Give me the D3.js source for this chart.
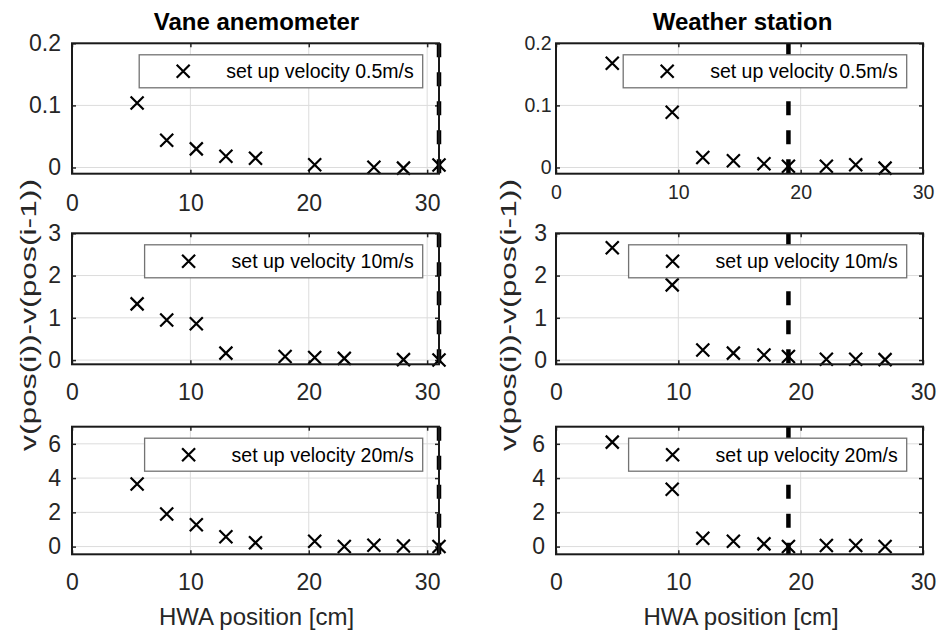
<!DOCTYPE html>
<html>
<head>
<meta charset="utf-8">
<script src="https://cdn.jsdelivr.net/npm/d3@7"></script>
<style>
  body { margin: 0; background: #fff; }
  text { font-family: "Liberation Sans", Arial, sans-serif; }
</style>
</head>
<body>
<svg id="chart" width="941" height="632"></svg>
<script>
// HWA positions (cm), null = no visible point
var vanePos = [5.5, 8, 10.5, 13, 15.5, 18, 20.5, 23, 25.5, 28, 31];
var vane05 = [0.104, 0.044, 0.030, 0.018, 0.015, null, 0.0045, null, 0.0005, -0.001, 0.004];
var vane10 = [1.33, 0.95, 0.86, 0.165, null, 0.085, 0.06, 0.04, null, 0.01, 0.0];
var vane20 = [3.65, 1.9, 1.28, 0.58, 0.23, null, 0.31, 0.0, 0.08, 0.04, 0.0];

var weatherPos = [4.6, 9.5, 12, 14.5, 17, 19, 22.1, 24.5, 26.9];
var weather05 = [0.168, 0.089, 0.016, 0.011, 0.006, 0.002, 0.002, 0.0045, -0.001];
var weather10 = [2.66, 1.78, 0.24, 0.165, 0.12, 0.085, 0.02, 0.02, 0.01];
var weather20 = [6.1, 3.35, 0.49, 0.31, 0.16, 0.0, 0.06, 0.06, 0.0];

var titles = ["Vane anemometer", "Weather station"];
var legendLabels = ["set up velocity 0.5m/s", "set up velocity 10m/s", "set up velocity 20m/s"];
var xTicks = [0, 10, 20, 30];
var yTicks = [[0, 0.1, 0.2], [0, 1, 2, 3], [0, 2, 4, 6]];
var yTickLabels = [["0", "0.1", "0.2"], ["0", "1", "2", "3"], ["0", "2", "4", "6"]];
var yLimits = [[-0.01, 0.2], [-0.1, 3], [-0.45, 7]];
var xLimits = [[0, 31], [0, 30]];
var dashPos = [31, 19];
var xLabel = "HWA position [cm]";
var yLabel = "v(pos(i))-v(pos(i-1))";

var svg = d3.select("#chart");

// layout
var cols = [[72, 439], [556, 923]];
var rows = [[43.3, 173.7], [233.3, 364.3], [426.7, 554.3]];
var legendRight = [422.7, 906.7];

var series = [
  [vane05, vane10, vane20],
  [weather05, weather10, weather20]
];
var positions = [vanePos, weatherPos];

function drawPanel(c, r) {
  var x0 = cols[c][0], x1 = cols[c][1];
  var y0 = rows[r][0], y1 = rows[r][1];
  var small = (c == 1 && r == 0);
  var fs = small ? 19.5 : 23;

  var x = d3.scaleLinear().domain(xLimits[c]).range([x0, x1]);
  var y = d3.scaleLinear().domain(yLimits[r]).range([y1, y0]);
  var g = svg.append("g");

  // grid
  g.selectAll(".gx").data(xTicks).enter().append("line")
    .attr("x1", d => x(d)).attr("x2", d => x(d))
    .attr("y1", y0).attr("y2", y1)
    .attr("stroke", "#dcdcdc").attr("stroke-width", 1);
  g.selectAll(".gy").data(yTicks[r]).enter().append("line")
    .attr("x1", x0).attr("x2", x1)
    .attr("y1", d => y(d)).attr("y2", d => y(d))
    .attr("stroke", "#dcdcdc").attr("stroke-width", 1);

  // axes
  var xPad = small ? 11.5 : (r == 0 ? 20.5 : 19);
  var xa = g.append("g").attr("transform", "translate(0," + y1 + ")")
    .call(d3.axisBottom(x).tickValues(xTicks).tickSizeInner(-4).tickSizeOuter(0).tickPadding(xPad));
  var xt = g.append("g").attr("transform", "translate(0," + y0 + ")")
    .call(d3.axisTop(x).tickValues(xTicks).tickSizeInner(-4).tickSizeOuter(0).tickFormat(""));
  var yPad = small ? 4.5 : (c == 1 && r == 1 ? 9 : 11);
  var ya = g.append("g").attr("transform", "translate(" + x0 + ",0)")
    .call(d3.axisLeft(y).tickValues(yTicks[r]).tickSizeInner(-4).tickSizeOuter(0).tickPadding(yPad)
      .tickFormat((d, i) => yTickLabels[r][i]));
  var yr = g.append("g").attr("transform", "translate(" + x1 + ",0)")
    .call(d3.axisRight(y).tickValues(yTicks[r]).tickSizeInner(-4).tickSizeOuter(0).tickFormat(""));
  [xa, xt, ya, yr].forEach(function (a) {
    a.select(".domain").remove();
    a.selectAll("line").attr("stroke", "#262626").attr("stroke-width", 1.5);
    a.selectAll("text").attr("fill", "#262626").attr("font-size", fs)
      .attr("font-family", "Liberation Sans, Arial, sans-serif");
  });

  // threshold line
  g.append("line")
    .attr("x1", x(dashPos[c])).attr("x2", x(dashPos[c]))
    .attr("y1", y0).attr("y2", y1)
    .attr("stroke", "#000").attr("stroke-width", 4.5)
    .attr("stroke-dasharray", "14,15");

  // markers
  var pts = positions[c].map((p, i) => ({ p: p, v: series[c][r][i] }))
    .filter(d => d.v !== null);
  g.selectAll(".m").data(pts).enter().append("path")
    .attr("transform", d => "translate(" + x(d.p) + "," + y(d.v) + ")")
    .attr("d", "M-6.5,-6.5L6.5,6.5M-6.5,6.5L6.5,-6.5")
    .attr("stroke", "#000").attr("stroke-width", 2.2).attr("fill", "none");

  // box
  g.append("rect")
    .attr("x", x0).attr("y", y0).attr("width", x1 - x0).attr("height", y1 - y0)
    .attr("fill", "none").attr("stroke", "#1a1a1a").attr("stroke-width", 2);

  // legend
  var lg = g.append("g");
  var ly = y0 + 11.5, lh = 33;
  var lt = lg.append("text").text(legendLabels[r])
    .attr("font-size", 19.5).attr("fill", "#000")
    .attr("y", ly + lh / 2).attr("dy", "0.35em");
  var tw = lt.node().getComputedTextLength();
  var lx = legendRight[c] - (87 + tw + 9);
  lg.insert("rect", "text")
    .attr("x", lx).attr("y", ly).attr("width", legendRight[c] - lx).attr("height", lh)
    .attr("fill", "#fff").attr("stroke", "#737373").attr("stroke-width", 1.3);
  lt.attr("x", lx + 87);
  lg.append("path")
    .attr("transform", "translate(" + (lx + 44) + "," + (ly + lh / 2) + ")")
    .attr("d", "M-6.5,-6.5L6.5,6.5M-6.5,6.5L6.5,-6.5")
    .attr("stroke", "#000").attr("stroke-width", 2.2).attr("fill", "none");

  if (r == 0) {
    svg.append("text").text(titles[c])
      .attr("x", (x0 + x1) / 2 + (c == 0 ? 1 : 3)).attr("y", 29.5)
      .attr("text-anchor", "middle").attr("font-weight", "bold")
      .attr("font-size", 24).attr("fill", "#000");
  }
  if (r == 2) {
    svg.append("text").text(xLabel)
      .attr("x", (x0 + x1) / 2 + (c == 0 ? 1 : 1.5)).attr("y", 625)
      .attr("text-anchor", "middle").attr("font-size", 24).attr("fill", "#262626");
  }
}

for (var c = 0; c < 2; c++) {
  for (var r = 0; r < 3; r++) {
    drawPanel(c, r);
  }
}

// y labels (one per column)
[36, 516].forEach(function (bx) {
  svg.append("text").text(yLabel)
    .attr("transform", "translate(" + bx + ",315) rotate(-90)")
    .attr("text-anchor", "middle").attr("font-size", 22).attr("fill", "#262626")
    .attr("textLength", 272).attr("lengthAdjust", "spacingAndGlyphs");
});
</script>
</body>
</html>
